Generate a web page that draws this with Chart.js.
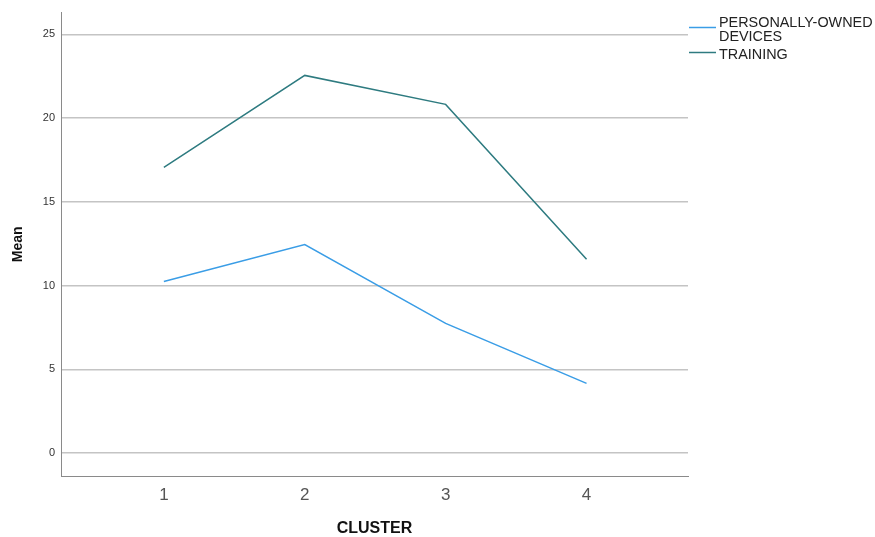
<!DOCTYPE html>
<html>
<head>
<meta charset="utf-8">
<script src="https://cdn.jsdelivr.net/npm/chart.js@4/dist/chart.umd.min.js"></script>
<style>
  html, body { margin: 0; padding: 0; background: #fff; }
  #wrap { width: 875px; height: 537px; }
</style>
</head>
<body>
<div id="wrap"><canvas id="chart" width="875" height="537"></canvas></div>
<script>
var clusters = [1, 2, 3, 4];
var personalDevices = [10.24, 12.45, 7.74, 4.16];
var training = [17.06, 22.55, 20.82, 11.57];
var yTicks = [0, 5, 10, 15, 20, 25];
var seriesNames = [['PERSONALLY-OWNED', 'DEVICES'], ['TRAINING']];

function toPoints(vals) {
    return clusters.map(function(c, i) { return { x: c, y: vals[i] }; });
}

// legend drawn by hand so the long label can wrap like the original
var sideLegend = {
    id: 'sideLegend',
    afterDraw: function(chart) {
        var ctx = chart.ctx;
        var tops = [16, 48];
        ctx.save();
        ctx.font = '14.4px "Liberation Sans", Arial, sans-serif';
        ctx.textBaseline = 'top';
        ctx.fillStyle = '#222';
        chart.data.datasets.forEach(function(ds, i) {
            var lines = seriesNames[i];
            var top = tops[i];
            var lineH = 14;
            var midY = top + (lines.length * lineH) / 2 - 3;
            ctx.strokeStyle = ds.borderColor;
            ctx.lineWidth = 1.5;
            ctx.beginPath();
            ctx.moveTo(689, Math.round(midY) + 0.5);
            ctx.lineTo(716, Math.round(midY) + 0.5);
            ctx.stroke();
            lines.forEach(function(t, j) {
                ctx.fillText(t, 719, top + j * lineH);
            });
        });
        ctx.restore();
    }
};

var ctx = document.getElementById('chart').getContext('2d');
var myChart = new Chart(ctx, {
    type: 'line',
    data: {
        datasets: [{
            label: 'PERSONALLY-OWNED DEVICES',
            data: toPoints(personalDevices),
            borderColor: '#3a9de6',
            borderWidth: 1.5,
            pointRadius: 0,
            tension: 0,
            fill: false
        }, {
            label: 'TRAINING',
            data: toPoints(training),
            borderColor: '#2e7b80',
            borderWidth: 1.5,
            pointRadius: 0,
            tension: 0,
            fill: false
        }]
    },
    options: {
        responsive: false,
        animation: false,
        layout: { padding: { top: 12, right: 187, left: 0, bottom: 0 } },
        plugins: {
            legend: { display: false },
            tooltip: { enabled: false }
        },
        scales: {
            x: {
                type: 'linear',
                min: 0.27,
                max: 4.72,
                afterBuildTicks: function(scale) {
                    scale.ticks = clusters.map(function(v) { return { value: v }; });
                },
                afterFit: function(scale) { scale.height = 61; },
                grid: { display: false, drawTicks: false },
                border: { display: true, color: '#8a8a8a', width: 1 },
                ticks: {
                    padding: 9,
                    color: '#555',
                    font: { family: '"Liberation Sans", Arial, sans-serif', size: 17 }
                },
                title: {
                    display: true,
                    text: 'CLUSTER',
                    color: '#111',
                    padding: { top: 0, bottom: 0 },
                    font: { family: '"Liberation Sans", Arial, sans-serif', size: 16, weight: 'bold', lineHeight: 1.0 }
                }
            },
            y: {
                min: -1.37,
                max: 26.3,
                afterBuildTicks: function(scale) {
                    scale.ticks = yTicks.map(function(v) { return { value: v }; });
                },
                afterFit: function(scale) { scale.width = 61; },
                grid: { color: '#c4c4c4', lineWidth: 1.5, drawTicks: false },
                border: { display: true, color: '#8a8a8a', width: 1 },
                ticks: {
                    padding: 6,
                    color: '#333',
                    font: { family: '"Liberation Sans", Arial, sans-serif', size: 11 }
                },
                title: {
                    display: true,
                    text: 'Mean',
                    color: '#111',
                    padding: { top: 10, bottom: 0 },
                    font: { family: '"Liberation Sans", Arial, sans-serif', size: 14, weight: 'bold' }
                }
            }
        }
    },
    plugins: [sideLegend]
});
</script>
</body>
</html>
